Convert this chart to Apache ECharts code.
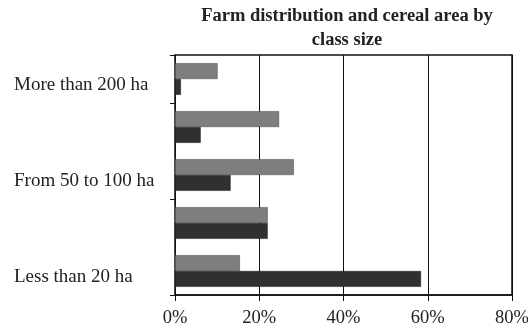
<!DOCTYPE html>
<html>
<head>
<meta charset="utf-8">
<style>html,body{margin:0;padding:0;background:#fff}#c{width:528px;height:327px}</style>
<script src="https://cdn.jsdelivr.net/npm/echarts@6/dist/echarts.min.js"></script>
</head>
<body>
<div id="c"></div>
<script>
const categories = ["Less than 20 ha", "From 20 to 50 ha", "From 50 to 100 ha", "From 100 to 200 ha", "More than 200 ha"];
const farmDistribution = [15.4, 22.0, 28.2, 24.7, 10.1];
const cerealArea = [58.4, 22.0, 13.2, 6.1, 1.4];
const xTicks = [0, 20, 40, 60, 80];

const chart = echarts.init(document.getElementById('c'));
const serif = '"Liberation Serif", "DejaVu Serif", serif';
chart.setOption({
  animation: false,
  title: {
    text: 'Farm distribution and cereal area by\nclass size',
    left: 342, textAlign: 'center', top: -1,
    textStyle: { fontFamily: serif, fontWeight: 'bold', fontSize: 18.5, color: '#222', lineHeight: 24 }
  },
  grid: { left: 175, right: 16, top: 55, bottom: 32, show: true, borderColor: '#111', borderWidth: 1.5, containLabel: false, outerBoundsMode: 'none' },
  xAxis: {
    type: 'value', min: xTicks[0], max: xTicks[xTicks.length - 1], interval: 20,
    axisLine: { show: true, lineStyle: { color: '#111', width: 1.5 } },
    axisTick: { show: true, length: 6, lineStyle: { color: '#111' } },
    splitLine: { show: true, lineStyle: { color: '#111', width: 1 } },
    axisLabel: { formatter: '{value}%', fontFamily: serif, fontSize: 18.5, color: '#222', margin: 14, hideOverlap: false }
  },
  yAxis: {
    type: 'category', data: categories,
    axisLine: { show: true, lineStyle: { color: '#111', width: 1 } },
    axisTick: { show: true, length: 5, lineStyle: { color: '#111' } },
    axisLabel: { interval: 1, align: 'left', margin: 161, fontFamily: serif, fontSize: 19, color: '#222', verticalAlign: 'top', lineHeight: 12 }
  },
  series: [
    { name: 'Farm distribution', type: 'bar', data: farmDistribution, barGap: '0%', barCategoryGap: '34%',
      itemStyle: { color: '#7e7e7e', borderColor: '#444', borderWidth: 0.5 } },
    { name: 'Cereal area', type: 'bar', data: cerealArea, barGap: '0%', barCategoryGap: '34%',
      itemStyle: { color: '#303030', borderColor: '#1a1a1a', borderWidth: 0.5 } }
  ]
});
</script>
</body>
</html>
